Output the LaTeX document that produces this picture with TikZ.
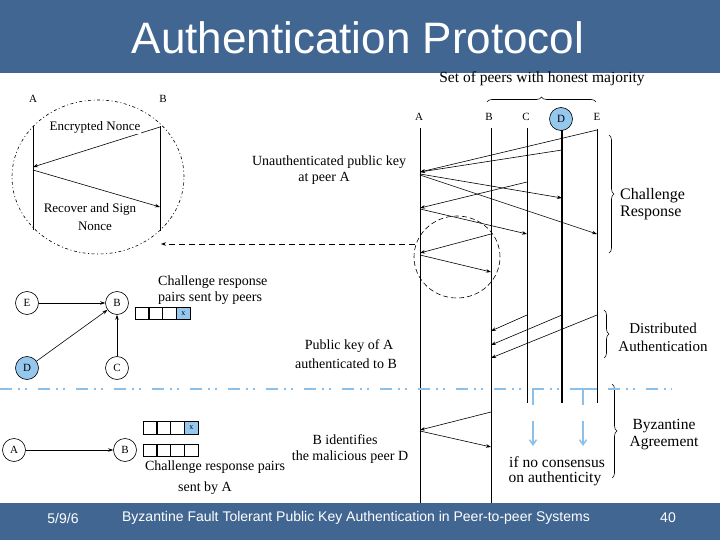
\documentclass[tikz,border=0pt]{standalone}
\usepackage{fontspec}
\setmainfont{Liberation Serif}
\newfontfamily\sff{Liberation Sans}
\usetikzlibrary{arrows.meta,decorations.pathreplacing,shapes.geometric,positioning}
\definecolor{barblue}{RGB}{66,102,146}
\definecolor{lblue}{RGB}{150,200,238}
\definecolor{dblue}{RGB}{140,192,232}
\newcommand{\fs}[1]{\fontsize{#1}{#1}\selectfont}
\begin{document}
\begin{tikzpicture}[x=1pt,y=-1pt,
  arr/.style={-{Stealth[length=5pt,width=3.5pt]}, line width=0.6pt},
  life/.style={line width=0.7pt},
  lbl/.style={inner sep=0pt, font=\fs{14}},
  tiny/.style={inner sep=0pt, font=\fs{11}},
  circ/.style={circle, draw, line width=0.6pt, minimum size=23pt, inner sep=0pt, font=\fs{11}},
  bx/.style={draw, line width=0.6pt, minimum width=13.3pt, minimum height=12.5pt, inner sep=0pt, font=\fs{8}},
  brc/.style={decorate, decoration={brace, amplitude=5pt}, line width=0.6pt},
  footer/.style={text=white, font=\sff\fs{14}, inner sep=0pt}]
\useasboundingbox (0,0) rectangle (720,540);
\fill[white] (0,0) rectangle (720,540);
\fill[barblue] (0,0) rectangle (720,73);
\fill[barblue] (0,503) rectangle (720,540);
\node[text=white, font=\sff\fs{44}, inner sep=0pt] (title) at (358,38) {Authentication Protocol};
\node[footer] (date) at (63,518) {5/9/6};
\node[footer] (ftitle) at (356,518) {Byzantine Fault Tolerant Public Key Authentication in Peer-to-peer Systems};
\node[footer] (page) at (668,518) {40};

% ---------- top-left nonce exchange ----------
\node[tiny] (tA) at (33,99) {A};
\node[tiny] (tB) at (163,99) {B};
\coordinate (a1t) at (33,126); \coordinate (a1b) at (33,230);
\coordinate (b1t) at (160,126); \coordinate (b1b) at (160,231);
\draw[life] (a1t) -- (a1b);
\draw[life] (b1t) -- (b1b);
\coordinate (en1) at (160,127); \coordinate (en2) at (33,167);
\draw[arr] (en1) -- (en2);
\coordinate (rs1) at (33,170); \coordinate (rs2) at (160,207);
\draw[arr] (rs1) -- (rs2);
\node[lbl, font=\fs{13}, fill=white, inner sep=1pt] (enc) at (95,127) {Encrypted Nonce};
\node[lbl, font=\fs{13}] (rec) at (90,209) {Recover and Sign};
\node[lbl, font=\fs{13}] (non) at (95,226) {Nonce};
\node[ellipse, draw, line width=0.6pt, dash pattern=on 3pt off 2.5pt on 1pt off 2.5pt,
      minimum width=172pt, minimum height=154pt] (bigc) at (98,177) {};

% ---------- sequence diagram ----------
\node[tiny] (sA) at (419,117) {A};
\node[tiny] (sB) at (489,117) {B};
\node[tiny] (sC) at (526,117) {C};
\node[circle, draw, fill=lblue, line width=0.6pt, minimum size=23pt, inner sep=0pt, font=\fs{11}] (sD) at (561,119) {D};
\node[tiny] (sE) at (597,117) {E};
\coordinate (At) at (420,128); \coordinate (Ab) at (420,503);
\coordinate (Bt) at (491,128); \coordinate (Bb) at (491,503);
\coordinate (Ct) at (527,128); \coordinate (Cb) at (527,403);
\coordinate (Dt) at (562,130); \coordinate (Db) at (562,403);
\coordinate (Et) at (597,129); \coordinate (Eb) at (597,403);
\draw[life] (At) -- (Ab);
\draw[life] (Bt) -- (Bb);
\draw[life] (Ct) -- (Cb);
\draw[line width=1.6pt] (Dt) -- (Db);
\draw[life] (Et) -- (Eb);

\coordinate (m1s) at (597,130); \coordinate (m1e) at (420,172);
\coordinate (m2s) at (562,150); \coordinate (m2e) at (420,172);
\coordinate (m3s) at (420,174); \coordinate (m3e) at (562,198);
\coordinate (m4s) at (420,175); \coordinate (m4e) at (597,234);
\coordinate (m5s) at (527,182); \coordinate (m5e) at (420,208);
\coordinate (m6s) at (420,209); \coordinate (m6e) at (527,234);
\coordinate (m7s) at (491,234); \coordinate (m7e) at (420,253);
\coordinate (m8s) at (420,255); \coordinate (m8e) at (491,272);
\coordinate (m9s) at (527,315); \coordinate (m9e) at (491,331);
\coordinate (m10s) at (562,315); \coordinate (m10e) at (491,345);
\coordinate (m11s) at (597,315); \coordinate (m11e) at (491,358);
\coordinate (m12s) at (491,412); \coordinate (m12e) at (420,430);
\coordinate (m13s) at (420,431); \coordinate (m13e) at (491,447);
\foreach \i in {1,...,13} {\draw[arr] (m\i s) -- (m\i e);}

\node[ellipse, draw, line width=0.6pt, dash pattern=on 5pt off 3pt, minimum width=86pt, minimum height=82pt] (smallc) at (457,257) {};
\coordinate (dsrc) at (415,244); \coordinate (ddst) at (161,244);
\draw[arr, dash pattern=on 6pt off 4pt] (dsrc) -- (ddst);

% labels
\node[lbl, font=\fs{15.5}] (setp) at (542,79) {Set of peers with honest majority};
\coordinate (br1a) at (487,102); \coordinate (br1b) at (596,102);
\draw[brc] (br1a) -- (br1b);
\node[lbl] (unauth) at (329,162) {Unauthenticated public key};
\node[lbl] (atpeer) at (324,178) {at peer A};
\coordinate (br2a) at (609,135); \coordinate (br2b) at (609,253);
\draw[brc] (br2a) -- (br2b);
\node[lbl, font=\fs{16}, anchor=west] (chal) at (620,196) {Challenge};
\node[lbl, font=\fs{16}, anchor=west] (resp) at (620,213) {Response};
\coordinate (br3a) at (604,310); \coordinate (br3b) at (604,358);
\draw[brc] (br3a) -- (br3b);
\node[lbl, font=\fs{15}] (dist) at (663,328) {Distributed};
\node[lbl, font=\fs{15}] (auth) at (663,346) {Authentication};
\node[lbl] (pub1) at (349,346) {Public key of A};
\node[lbl] (pub2) at (346,364) {authenticated to B};
\coordinate (br4a) at (612,384); \coordinate (br4b) at (612,478);
\draw[brc] (br4a) -- (br4b);
\node[lbl, font=\fs{15.5}] (byz) at (664,426) {Byzantine};
\node[lbl, font=\fs{15.5}] (agr) at (664,443) {Agreement};
\node[lbl, font=\fs{15.5}] (nocons) at (557,462) {if no consensus};
\node[lbl, font=\fs{15.5}] (onauth) at (555,479) {on authenticity};
\node[lbl] (bid1) at (345,440) {B identifies};
\node[lbl] (bid2) at (350,457) {the malicious peer D};

% blue separator
\coordinate (sepL) at (0,389); \coordinate (sepR) at (672,389);
\draw[dblue, line width=2.5pt, dash pattern=on 12pt off 6pt on 2pt off 5pt on 2pt off 11pt] (sepL) -- (sepR);
\coordinate (bv1t) at (533,389); \coordinate (bv1b) at (533,405);
\coordinate (bv2t) at (583,389); \coordinate (bv2b) at (583,405);
\coordinate (bh2) at (597,389);
\draw[dblue, line width=2.5pt] (bv1t) -- (bv1b);
\draw[dblue, line width=2.5pt] (bh2) -- (bv2t) -- (bv2b);
\coordinate (ba1s) at (533,421); \coordinate (ba1e) at (533,446);
\coordinate (ba2s) at (583,421); \coordinate (ba2e) at (583,446);
\draw[dblue, line width=1.5pt, -{Straight Barb[length=5pt,width=7pt]}] (ba1s) -- (ba1e);
\draw[dblue, line width=1.5pt, -{Straight Barb[length=5pt,width=7pt]}] (ba2s) -- (ba2e);

% ---------- peer graph ----------
\node[circ] (gE) at (27,303) {E};
\node[circ] (gB) at (117,303) {B};
\node[circ, fill=lblue] (gD) at (27,368) {D};
\node[circ] (gC) at (117,368) {C};
\draw[arr] (gE) -- (gB);
\draw[arr] (gD) -- (gB);
\draw[arr] (gC) -- (gB);
\node[bx] (p1) at (141.6,313.5) {};
\node[bx, right=0pt of p1] (p2) {};
\node[bx, right=0pt of p2] (p3) {};
\node[bx, fill=lblue, right=0pt of p3] (p4) {x};
\node[lbl, anchor=west] (crp1) at (158,282) {Challenge response};
\node[lbl, anchor=west] (crp2) at (158,298) {pairs sent by peers};

% ---------- A to B ----------
\node[circ] (hA) at (14,450) {A};
\node[circ] (hB) at (125,450) {B};
\draw[arr] (hA) -- (hB);
\node[bx] (q1) at (149.6,428) {};
\node[bx, right=0pt of q1] (q2) {};
\node[bx, right=0pt of q2] (q3) {};
\node[bx, fill=lblue, right=0pt of q3] (q4) {x};
\node[bx] (r1) at (149.6,450.5) {};
\node[bx, right=0pt of r1] (r2) {};
\node[bx, right=0pt of r2] (r3) {};
\node[bx, right=0pt of r3] (r4) {};
\node[lbl] (crp3) at (215,467) {Challenge response pairs};
\node[lbl] (crp4) at (205,488) {sent by A};
\end{tikzpicture}
\end{document}
